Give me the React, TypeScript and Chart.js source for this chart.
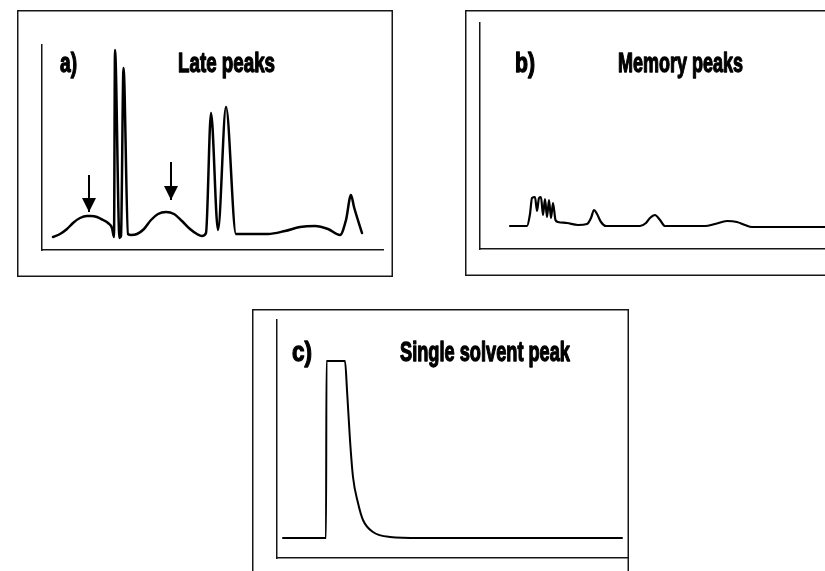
import React, { useEffect, useRef } from 'react';
import { Chart, registerables } from 'chart.js';
Chart.register(...registerables);

// ---- Panel a) Late peaks : retention time vs detector signal ----
const lateTime = [1.1, 1.8, 2.5, 3.1, 3.8, 4.5, 4.9, 5.5, 6.1, 6.6, 7.0, 7.2, 7.3, 7.75, 7.9, 8.15, 8.6, 8.9, 9.5, 10.2, 10.9, 11.6, 12.4, 13.2, 14.0, 14.8, 15.5, 16.0, 16.4, 16.9, 17.6, 18.4, 19.4, 20.8, 22.6, 24.3, 25.8, 27.3, 28.6, 29.8, 30.4, 30.9, 31.2, 32.0];
const lateSignal = [1.3, 1.6, 2.1, 2.7, 3.2, 3.4, 3.4, 3.3, 3.0, 2.7, 2.2, 1.3, 20.0, 1.2, 1.4, 18.2, 1.6, 1.5, 1.6, 2.1, 3.0, 3.6, 3.8, 3.6, 2.9, 2.1, 1.6, 1.4, 1.7, 13.7, 2.0, 14.3, 1.6, 1.6, 1.6, 1.9, 2.3, 2.4, 2.1, 1.5, 3.0, 5.5, 4.3, 1.7];
const arrowTime = [4.7, 12.9];
const arrowFrom = [7.5, 8.8];
const arrowTo = [3.8, 5.0];

// ---- Panel b) Memory peaks ----
const memTime = [3.0, 4.7, 5.0, 5.2, 5.5, 5.7, 5.9, 6.1, 6.3, 6.5, 6.7, 6.9, 7.1, 7.3, 7.55, 7.8, 8.7, 9.8, 10.7, 11.1, 11.4, 11.7, 12.1, 12.6, 16.0, 16.6, 17.0, 17.5, 18.0, 18.5, 22.5, 23.5, 24.7, 25.7, 26.5, 27.2, 34.5];
const memSignal = [2.3, 2.3, 3.5, 5.1, 5.2, 3.8, 5.1, 5.2, 3.4, 5.0, 3.2, 4.9, 3.1, 4.6, 2.9, 2.7, 2.6, 2.4, 2.5, 3.1, 3.9, 3.5, 2.7, 2.3, 2.3, 2.6, 3.1, 3.4, 2.9, 2.3, 2.3, 2.5, 2.8, 2.7, 2.4, 2.2, 2.2];

// ---- Panel c) Single solvent peak ----
const solvTime = [0.6, 4.9, 4.95, 6.8, 7.0, 7.3, 7.6, 8.1, 8.6, 9.6, 11.3, 14.3, 34.5];
const solvSignal = [2.0, 2.0, 19.7, 19.7, 16.8, 11.8, 8.1, 5.5, 3.8, 2.6, 2.1, 2.0, 2.0];

// ---- Labels (tags and titles) ----
const panelTags = ['a)', 'b)', 'c)'];
const panelTitles = ['Late peaks', 'Memory peaks', 'Single solvent peak'];

type Label = { text: string; x: number; y: number; w: number };

const zip = (xs: number[], ys: number[]) => xs.map((x, i) => ({ x, y: ys[i] }));

const decorPlugin = {
  id: 'panelDecor',
  beforeDraw(chart: any) {
    const { ctx, width, height } = chart;
    ctx.save();
    ctx.strokeStyle = '#161616';
    ctx.lineWidth = 1.5;
    ctx.strokeRect(0.75, 0.75, width - 1.5, height - 1.5);
    ctx.restore();
  },
  afterDatasetsDraw(chart: any, _args: any, opts: any) {
    const { ctx } = chart;
    const xs = chart.scales.x;
    const ys = chart.scales.y;
    ctx.save();
    ctx.fillStyle = '#000';
    chart.data.datasets.forEach((ds: any) => {
      if (!ds.arrow) return;
      const p = ds.data[ds.data.length - 1];
      const px = xs.getPixelForValue(p.x);
      const py = ys.getPixelForValue(p.y);
      ctx.beginPath();
      ctx.moveTo(px, py);
      ctx.lineTo(px - 7, py - 14);
      ctx.lineTo(px + 7, py - 14);
      ctx.closePath();
      ctx.fill();
    });
    const labels: Label[] = (opts && opts.labels) || [];
    labels.forEach((l) => {
      ctx.save();
      ctx.font = 'bold 27px "Liberation Sans", Arial, sans-serif';
      ctx.textBaseline = 'alphabetic';
      ctx.textAlign = 'left';
      const m = ctx.measureText(l.text).width;
      const px = xs.getPixelForValue(l.x);
      const py = ys.getPixelForValue(l.y);
      ctx.translate(px, py);
      ctx.scale(l.w / m, 1);
      ctx.fillStyle = '#000';
      ctx.strokeStyle = '#000';
      ctx.lineWidth = 1.3;
      ctx.lineJoin = 'round';
      ctx.fillText(l.text, 0, 0);
      ctx.strokeText(l.text, 0, 0);
      ctx.restore();
    });
    ctx.restore();
  },
};

type PanelProps = {
  left: number;
  top: number;
  width: number;
  height: number;
  padding: { left: number; top: number; right: number; bottom: number };
  xMax: number;
  yMax: number;
  datasets: any[];
  labels: Label[];
};

function Panel(props: PanelProps) {
  const ref = useRef<HTMLCanvasElement | null>(null);
  useEffect(() => {
    if (!ref.current) return;
    const axis = (max: number, pos: string) => ({
      type: 'linear',
      position: pos,
      min: 0,
      max,
      ticks: { display: false },
      grid: { display: false, drawTicks: false, tickLength: 0 },
      border: { display: true, color: '#161616', width: 1.5 },
    });
    const chart = new Chart(ref.current, {
      type: 'line',
      data: { datasets: props.datasets },
      options: {
        responsive: false,
        animation: false,
        events: [],
        layout: { padding: props.padding },
        scales: { x: axis(props.xMax, 'bottom') as any, y: axis(props.yMax, 'left') as any },
        plugins: {
          legend: { display: false },
          tooltip: { enabled: false },
          panelDecor: { labels: props.labels },
        } as any,
      },
      plugins: [decorPlugin],
    } as any);
    return () => chart.destroy();
  }, []);
  return (
    <canvas
      ref={ref}
      width={props.width}
      height={props.height}
      style={{ position: 'absolute', left: props.left, top: props.top, display: 'block' }}
    />
  );
}

const curve = (xs: number[], ys: number[], w: number) => ({
  data: zip(xs, ys),
  borderColor: '#000',
  borderWidth: w,
  pointRadius: 0,
  fill: false,
  cubicInterpolationMode: 'monotone',
  borderJoinStyle: 'round',
  borderCapStyle: 'round',
  clip: false,
});

const arrows = arrowTime.map((t, i) => ({
  arrow: true,
  data: [
    { x: t, y: arrowFrom[i] },
    { x: t, y: arrowTo[i] },
  ],
  borderColor: '#000',
  borderWidth: 2,
  pointRadius: 0,
  fill: false,
  clip: false,
}));

export default function App() {
  return (
    <div
      style={{
        position: 'absolute',
        left: 0,
        top: 0,
        width: 825,
        height: 571,
        overflow: 'hidden',
        background: '#fff',
      }}
    >
      <Panel
        left={17}
        top={10}
        width={376}
        height={267}
        padding={{ left: 25, top: 35, right: 10, bottom: 27 }}
        xMax={34.1}
        yMax={20.5}
        datasets={[curve(lateTime, lateSignal, 2.5), ...arrows]}
        labels={[
          { text: panelTags[0], x: 1.8, y: 17.8, w: 17 },
          { text: panelTitles[0], x: 13.6, y: 17.8, w: 97 },
        ]}
      />
      <Panel
        left={465}
        top={10}
        width={400}
        height={266}
        padding={{ left: 15, top: 13, right: 15, bottom: 27 }}
        xMax={37}
        yMax={22.6}
        datasets={[curve(memTime, memSignal, 2.2)]}
        labels={[
          { text: panelTags[1], x: 3.5, y: 17.7, w: 20 },
          { text: panelTitles[1], x: 13.8, y: 17.7, w: 125 },
        ]}
      />
      <Panel
        left={252}
        top={309}
        width={377}
        height={272}
        padding={{ left: 25, top: 11, right: 1, bottom: 23 }}
        xMax={35.1}
        yMax={23.8}
        datasets={[curve(solvTime, solvSignal, 2)]}
        labels={[
          { text: panelTags[2], x: 1.5, y: 19.7, w: 20 },
          { text: panelTitles[2], x: 12.3, y: 19.7, w: 170 },
        ]}
      />
    </div>
  );
}
